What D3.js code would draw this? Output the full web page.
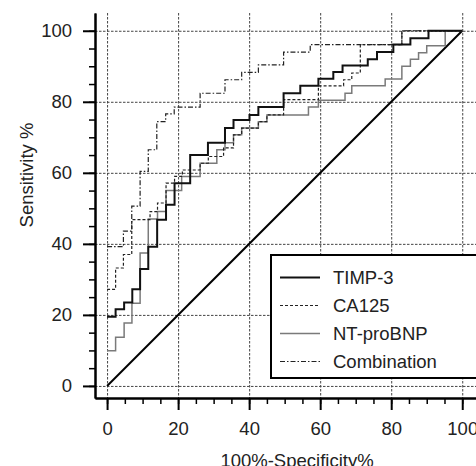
<!DOCTYPE html>
<html>
<head>
<meta charset="utf-8">
<script src="https://d3js.org/d3.v7.min.js"></script>
<style>
  body { margin: 0; background: #fff; }
  svg { display: block; }
  text { font-family: "Liberation Sans", Arial, Helvetica, sans-serif; fill: #222; }
</style>
</head>
<body>
<script>
  // ROC curves, values (100%-specificity vs sensitivity, in %)
  var timpFpr = [0, 2.4, 4.8, 7.1, 9.3, 11.6, 14.1, 16.6, 19.0, 23.4, 28.4, 33.2, 35.6, 40.1, 42.6, 49.7, 54.4, 59.5, 63.7, 66.3, 73.4, 76.0, 80.6, 85.4, 90.5, 100];
  var timpTpr = [19.5, 21.6, 23.5, 27.2, 32.9, 39.2, 46.8, 51.0, 57.1, 65.0, 68.5, 72.6, 74.9, 76.3, 78.5, 82.4, 84.5, 86.5, 88.4, 90.2, 92.0, 94.0, 96.1, 97.9, 100, 100];

  var caFpr = [0, 2.4, 4.6, 6.95, 12.1, 14.2, 16.6, 19.0, 21.2, 26.2, 28.5, 32.8, 35.6, 37.9, 42.6, 45.0, 49.7, 59.5, 66.6, 68.9, 71.3, 83.0, 100];
  var caTpr = [27.2, 33.2, 37.0, 46.8, 49.1, 51.5, 57.1, 59.0, 60.8, 62.7, 64.6, 67.0, 70.7, 72.6, 74.4, 76.3, 80.6, 84.5, 86.2, 88.1, 96.1, 100, 100];

  var ntFpr = [0, 2.4, 4.8, 7.0, 9.3, 11.6, 14.2, 16.6, 21.0, 26.2, 30.9, 33.2, 35.6, 37.9, 42.6, 45.0, 56.7, 59.5, 67.0, 68.9, 78.3, 83.0, 85.4, 87.7, 90.0, 95.2, 100];
  var ntTpr = [9.9, 13.7, 17.7, 23.3, 37.4, 47.0, 49.1, 55.0, 59.0, 62.7, 66.5, 68.5, 70.7, 72.6, 74.4, 76.3, 78.5, 80.4, 82.4, 84.5, 86.4, 90.0, 92.0, 93.8, 95.8, 100, 100];

  var comboFpr = [0, 4.6, 6.95, 9.3, 11.6, 14.0, 16.5, 18.9, 26.2, 33.2, 37.9, 42.6, 49.7, 57.2, 83.0, 100];
  var comboTpr = [39.2, 43.6, 50.6, 60.4, 66.5, 74.4, 76.6, 78.5, 82.4, 86.2, 88.3, 90.4, 94.0, 96.1, 100, 100];

  var seriesNames = ["TIMP-3", "CA125", "NT-proBNP", "Combination"];
  var majorTicks = [0, 20, 40, 60, 80, 100];
  var minorTicks = d3.range(0, 101, 5);

  var width = 476, height = 466;
  var fontSize = "18.5px";
  var svg = d3.select("body").append("svg")
      .attr("width", width)
      .attr("height", height);

  var x = d3.scaleLinear().domain([-3.4, 105]).range([95, 480]);
  var y = d3.scaleLinear().domain([-3.4, 105]).range([398, 13]);

  // dotted grid
  var grid = svg.append("g")
      .attr("stroke", "#444")
      .attr("stroke-width", 1)
      .attr("stroke-dasharray", "2.5,1.5");
  grid.selectAll("line.v").data(majorTicks).enter().append("line")
      .attr("x1", function(d) { return x(d) + 0.5; })
      .attr("x2", function(d) { return x(d) + 0.5; })
      .attr("y1", y(105)).attr("y2", y(-3.4));
  grid.selectAll("line.h").data(majorTicks).enter().append("line")
      .attr("y1", function(d) { return y(d) + 0.5; })
      .attr("y2", function(d) { return y(d) + 0.5; })
      .attr("x1", x(-3.4)).attr("x2", x(105));

  // diagonal reference
  svg.append("line")
      .attr("x1", x(0)).attr("y1", y(0))
      .attr("x2", x(100)).attr("y2", y(100))
      .attr("stroke", "#000").attr("stroke-width", 2);

  var line = d3.line()
      .x(function(d) { return x(d[0]); })
      .y(function(d) { return y(d[1]); })
      .curve(d3.curveStepAfter);

  function pairs(a, b) { return a.map(function(v, i) { return [v, b[i]]; }); }

  var styles = [
    { data: pairs(timpFpr, timpTpr), stroke: "#111", width: 2, dash: null },
    { data: pairs(caFpr, caTpr), stroke: "#222", width: 1.2, dash: "3,2" },
    { data: pairs(ntFpr, ntTpr), stroke: "#7a7a7a", width: 1.5, dash: null },
    { data: pairs(comboFpr, comboTpr), stroke: "#222", width: 1.2, dash: "5,2,1.5,2" }
  ];

  // draw gray first so black lines sit on top
  [2, 1, 3, 0].forEach(function(i) {
    var s = styles[i];
    svg.append("path")
        .datum(s.data)
        .attr("fill", "none")
        .attr("stroke", s.stroke)
        .attr("stroke-width", s.width)
        .attr("stroke-dasharray", s.dash)
        .attr("d", line);
  });

  // axes
  var xMinor = svg.append("g").attr("transform", "translate(0,398)")
      .call(d3.axisBottom(x).tickValues(minorTicks).tickSize(6).tickSizeOuter(0).tickFormat(""));
  var xMajor = svg.append("g").attr("transform", "translate(0,398)")
      .call(d3.axisBottom(x).tickValues(majorTicks).tickSize(12).tickSizeOuter(0).tickPadding(12));
  var yMinor = svg.append("g").attr("transform", "translate(95,0)")
      .call(d3.axisLeft(y).tickValues(minorTicks).tickSize(6).tickSizeOuter(0).tickFormat(""));
  var yMajor = svg.append("g").attr("transform", "translate(95,0)")
      .call(d3.axisLeft(y).tickValues(majorTicks).tickSize(12).tickSizeOuter(0).tickPadding(11));

  [xMinor, xMajor, yMinor, yMajor].forEach(function(g) {
    g.select(".domain").attr("stroke", "#000").attr("stroke-width", 2);
    g.selectAll(".tick line").attr("stroke", "#000").attr("stroke-width", 1.5);
    g.selectAll("text").style("font-size", fontSize).attr("fill", "#222")
        .style("font-family", "'Liberation Sans', Arial, sans-serif");
  });
  xMajor.selectAll(".tick line").attr("stroke-width", 2);
  yMajor.selectAll(".tick line").attr("stroke-width", 2);

  // axis titles
  svg.append("text")
      .attr("x", 297).attr("y", 467)
      .attr("text-anchor", "middle")
      .style("font-size", fontSize)
      .text("100%-Specificity%");
  svg.append("text")
      .attr("transform", "translate(33,175) rotate(-90)")
      .attr("text-anchor", "middle")
      .style("font-size", fontSize)
      .text("Sensitivity %");

  // legend
  var legend = svg.append("g");
  legend.append("rect")
      .attr("x", 271).attr("y", 255)
      .attr("width", 215).attr("height", 123)
      .attr("fill", "#fff").attr("stroke", "#000").attr("stroke-width", 2);
  seriesNames.forEach(function(name, i) {
    var s = styles[i];
    var yy = 277.5 + i * 28;
    legend.append("line")
        .attr("x1", 280).attr("x2", 320)
        .attr("y1", yy).attr("y2", yy)
        .attr("stroke", s.stroke)
        .attr("stroke-width", s.width)
        .attr("stroke-dasharray", s.dash);
    legend.append("text")
        .attr("x", 333).attr("y", yy)
        .attr("dy", "0.35em")
        .style("font-size", fontSize)
        .text(name);
  });
</script>
</body>
</html>
